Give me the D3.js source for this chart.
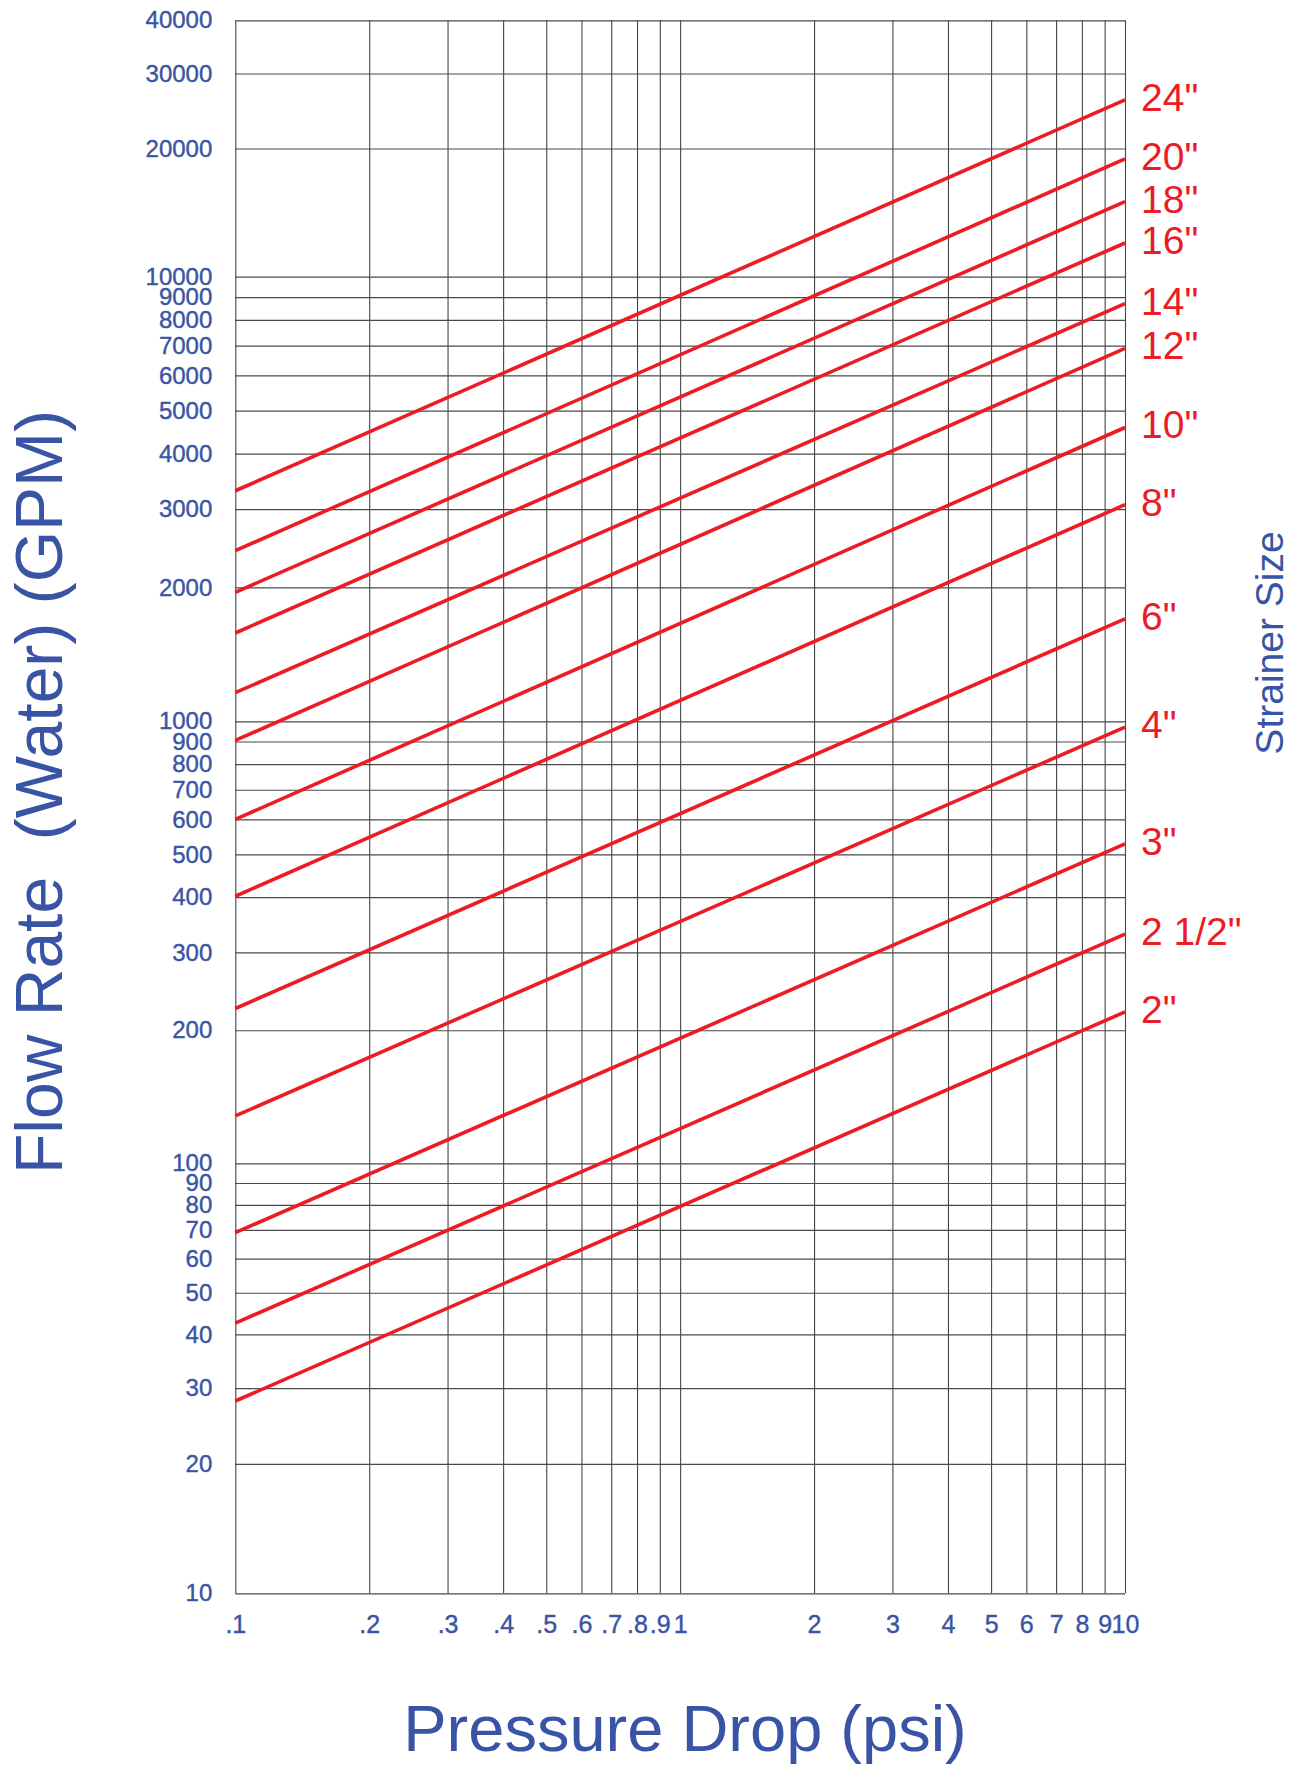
<!DOCTYPE html>
<html><head><meta charset="utf-8">
<script src="https://cdn.jsdelivr.net/npm/d3@7"></script>
<style>html,body{margin:0;padding:0;background:#fff}</style>
</head><body>
<svg id="chart" width="1297" height="1765"></svg>
<script>
// ---- data ----
const sizes = ['2"', '2 1/2"', '3"', '4"', '6"', '8"', '10"', '12"', '14"', '16"', '18"', '20"', '24"'];
const flowAtLowPsi  = [28, 42.5, 69, 128, 224, 402, 600, 905, 1160, 1580, 1950, 2420, 3300];      // GPM at 0.1 psi
const flowAtHighPsi = [220, 330, 528, 970, 1700, 3070, 4580, 6900, 8700, 12000, 15000, 18900, 26000]; // GPM at 10 psi
const pressureRange = [0.1, 10];
const pressureTicks = [0.1,0.2,0.3,0.4,0.5,0.6,0.7,0.8,0.9,1,2,3,4,5,6,7,8,9,10];
const pressureLabels = [".1",".2",".3",".4",".5",".6",".7",".8",".9","1","2","3","4","5","6","7","8","9","10"];
const flowTicks = [10,20,30,40,50,60,70,80,90,100,200,300,400,500,600,700,800,900,
                   1000,2000,3000,4000,5000,6000,7000,8000,9000,10000,20000,30000,40000];
const flowDecades = [10, 100, 1000, 10000, 40000];

(function () {
// ---- layout ----
const W = 1297, H = 1765;
const pL = 235.3, pR = 1125, pT = 20.3, pB = 1593.3;
const blue = "#3a54a5", red = "#ec1c24";
const font = "'Liberation Sans', Arial, Helvetica, sans-serif";

const svg = d3.select("#chart");
svg.append("rect").attr("width", W).attr("height", H).attr("fill", "#fff");

const x = d3.scaleLog().domain(pressureRange).range([pL, pR]);
// the printed chart's decades are not exactly equal in height: piecewise log scale
const y = d3.scaleLog().domain(flowDecades).range([pB, 1163.3, 721.3, 276.7, pT]);

// x axis + vertical grid
const xAxis = svg.append("g").attr("transform", `translate(0,${pB})`)
  .call(d3.axisBottom(x).tickValues(pressureTicks)
        .tickFormat((d, i) => pressureLabels[i])
        .tickSize(-(pB - pT)).tickPadding(22));
xAxis.select(".domain").remove();
xAxis.selectAll(".tick line").attr("stroke", "#444").attr("stroke-width", 1.1);
xAxis.selectAll(".tick text").attr("fill", blue).attr("stroke", blue).attr("stroke-width", 0.4)
  .attr("font-family", font).attr("font-size", 25);

// y axis + horizontal grid
const yAxis = svg.append("g").attr("transform", `translate(${pL},0)`)
  .call(d3.axisLeft(y).tickValues(flowTicks).tickFormat(d3.format("d"))
        .tickSize(-(pR - pL)).tickPadding(23));
yAxis.select(".domain").remove();
yAxis.selectAll(".tick line").attr("stroke", "#4a4a4a").attr("stroke-width", 1.2);
yAxis.selectAll(".tick text").attr("fill", blue).attr("stroke", blue).attr("stroke-width", 0.4)
  .attr("font-family", font).attr("font-size", 24);

// strainer lines
const line = d3.line().x(d => x(d[0])).y(d => y(d[1]));
const series = sizes.map((s, i) => ({
  size: s,
  pts: [[pressureRange[0], flowAtLowPsi[i]], [pressureRange[1], flowAtHighPsi[i]]]
}));
svg.append("g").selectAll("path").data(series).join("path")
  .attr("d", d => line(d.pts))
  .attr("fill", "none").attr("stroke", red).attr("stroke-width", 3.6);

svg.append("g").selectAll("text").data(series).join("text")
  .attr("x", d => x(d.pts[1][0]) + 16)
  .attr("y", d => y(d.pts[1][1]) + 11)
  .attr("fill", red).attr("font-family", font).attr("font-size", 39)
  .text(d => d.size);

// titles
svg.append("text")
  .attr("transform", `translate(62,792) rotate(-90)`)
  .attr("text-anchor", "middle").attr("fill", blue)
  .attr("font-family", font).attr("font-size", 66)
  .style("white-space", "pre")
  .text("Flow Rate  (Water) (GPM)");

svg.append("text")
  .attr("x", 685).attr("y", 1751)
  .attr("text-anchor", "middle").attr("fill", blue)
  .attr("font-family", font).attr("font-size", 65)
  .text("Pressure Drop (psi)");

svg.append("text")
  .attr("transform", `translate(1283,643) rotate(-90)`)
  .attr("text-anchor", "middle").attr("fill", blue)
  .attr("font-family", font).attr("font-size", 39)
  .text("Strainer Size");
})();
</script>
</body></html>
